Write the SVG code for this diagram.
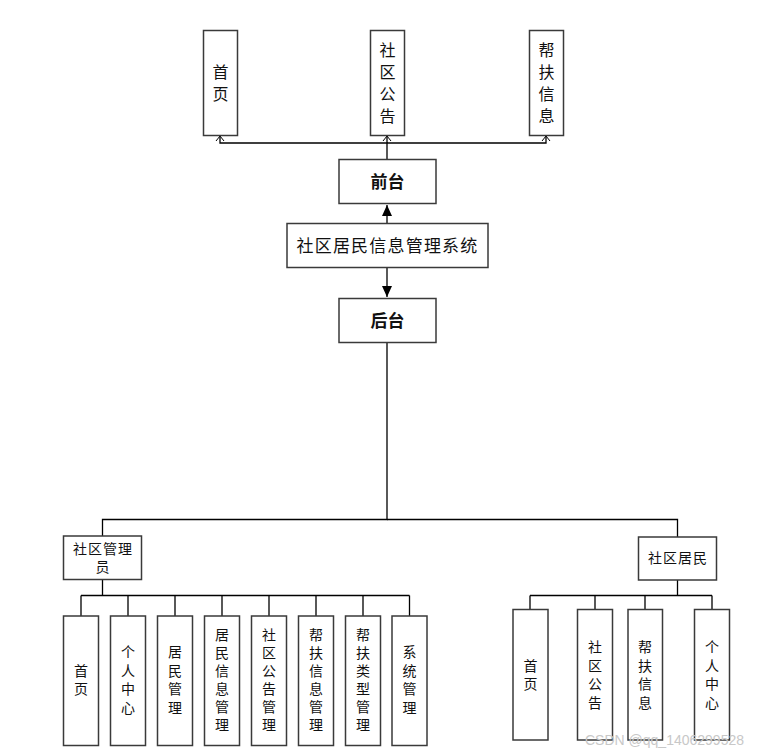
<svg xmlns="http://www.w3.org/2000/svg" width="758" height="753" viewBox="0 0 758 753">
<style>
.box{fill:#fff;stroke:#3a3a3a;stroke-width:1.5}
.ln{fill:none;stroke:#000;stroke-width:1.3}
text{font-family:"Liberation Sans","Noto Sans CJK SC",sans-serif;fill:#111;text-anchor:middle;dominant-baseline:central}
.t16{font-size:16px}
.t14{font-size:14px}
.b{font-weight:bold;font-size:17px}
.wm{font-family:"Liberation Sans",sans-serif;font-size:14px;fill:#c8c8c8;text-anchor:start}
</style>
<defs>
<marker id="open" markerWidth="10" markerHeight="10" refX="5" refY="1" orient="0" markerUnits="userSpaceOnUse">
<path d="M1 6 L5 1 L9 6" fill="none" stroke="#000" stroke-width="1"/>
</marker>
<marker id="fillUp" markerWidth="12" markerHeight="14" refX="6" refY="1" orient="0" markerUnits="userSpaceOnUse">
<path d="M6 1 L11 12 L1 12 Z" fill="#000"/>
</marker>
<marker id="fillDown" markerWidth="12" markerHeight="14" refX="6" refY="13" orient="0" markerUnits="userSpaceOnUse">
<path d="M6 13 L11 2 L1 2 Z" fill="#000"/>
</marker>
</defs>

<g id="connectors">
<path class="ln" d="M387 159 V143 H220 V136" marker-end="url(#open)"/>
<path class="ln" d="M387 143 V136" marker-end="url(#open)"/>
<path class="ln" d="M387 143 H546 V136" marker-end="url(#open)"/>
<path class="ln" d="M387 223 V205" marker-end="url(#fillUp)"/>
<path class="ln" d="M387 267 V297" marker-end="url(#fillDown)"/>
<path class="ln" d="M387 343 V519.5 H102.5 V536"/>
<path class="ln" d="M387 519.5 H677.5 V537"/>
<path class="ln" d="M102.5 579 V595.5"/>
<path class="ln" d="M81 595.5 H409.5"/>
<path class="ln" d="M81 595.5 V616 M128 595.5 V616 M175 595.5 V616 M222 595.5 V616 M269 595.5 V616 M316 595.5 V616 M363 595.5 V616 M409.5 595.5 V616"/>
<path class="ln" d="M677.5 580 V595.5"/>
<path class="ln" d="M530 595.5 H712"/>
<path class="ln" d="M530 595.5 V609 M595 595.5 V609 M645 595.5 V609 M712 595.5 V609"/>
</g>

<g id="n-home-top"><rect class="box" x="203.5" y="30.5" width="34" height="105"/>
<text class="t16"><tspan x="220.5" y="72">首</tspan><tspan x="220.5" y="94">页</tspan></text></g>
<g id="n-notice-top"><rect class="box" x="370.5" y="30.5" width="34" height="105"/>
<text class="t16"><tspan x="387.5" y="50">社</tspan><tspan x="387.5" y="72">区</tspan><tspan x="387.5" y="94">公</tspan><tspan x="387.5" y="116">告</tspan></text></g>
<g id="n-help-top"><rect class="box" x="529.5" y="30.5" width="34" height="105"/>
<text class="t16"><tspan x="546.5" y="50">帮</tspan><tspan x="546.5" y="72">扶</tspan><tspan x="546.5" y="94">信</tspan><tspan x="546.5" y="116">息</tspan></text></g>

<g id="n-front"><rect class="box" x="339" y="159.5" width="97" height="44"/>
<text class="b" x="387.5" y="182">前台</text></g>
<g id="n-system"><rect class="box" x="287" y="223.5" width="201" height="44"/>
<text x="387.5" y="246" style="font-size:17px;letter-spacing:1.2px">社区居民信息管理系统</text></g>
<g id="n-back"><rect class="box" x="339" y="298.5" width="97" height="44"/>
<text class="b" x="387.5" y="321">后台</text></g>

<g id="n-admin"><rect class="box" x="63.5" y="536" width="78" height="43.5"/>
<text class="t14" style="letter-spacing:1px"><tspan x="103" y="549">社区管理</tspan><tspan x="103" y="567">员</tspan></text></g>
<g id="n-resident"><rect class="box" x="638.5" y="537" width="78" height="43"/>
<text class="t14" x="678" y="558" style="letter-spacing:1px">社区居民</text></g>

<g id="a-home"><rect class="box" x="63.5" y="616" width="35" height="129.5"/>
<text class="t14"><tspan x="81" y="671">首</tspan><tspan x="81" y="689">页</tspan></text></g>
<g id="a-personal"><rect class="box" x="110.5" y="616" width="35" height="129.5"/>
<text class="t14"><tspan x="128" y="652">个</tspan><tspan x="128" y="670.5">人</tspan><tspan x="128" y="689">中</tspan><tspan x="128" y="707.5">心</tspan></text></g>
<g id="a-resident"><rect class="box" x="157.5" y="616" width="35" height="129.5"/>
<text class="t14"><tspan x="175" y="652">居</tspan><tspan x="175" y="670.5">民</tspan><tspan x="175" y="689">管</tspan><tspan x="175" y="707.5">理</tspan></text></g>
<g id="a-resinfo"><rect class="box" x="204.5" y="616" width="35" height="129.5"/>
<text class="t14"><tspan x="222" y="634.5">居</tspan><tspan x="222" y="652.5">民</tspan><tspan x="222" y="670.5">信</tspan><tspan x="222" y="688.5">息</tspan><tspan x="222" y="706.5">管</tspan><tspan x="222" y="724.5">理</tspan></text></g>
<g id="a-notice"><rect class="box" x="251.5" y="616" width="35" height="129.5"/>
<text class="t14"><tspan x="269" y="634.5">社</tspan><tspan x="269" y="652.5">区</tspan><tspan x="269" y="670.5">公</tspan><tspan x="269" y="688.5">告</tspan><tspan x="269" y="706.5">管</tspan><tspan x="269" y="724.5">理</tspan></text></g>
<g id="a-helpinfo"><rect class="box" x="298.5" y="616" width="35" height="129.5"/>
<text class="t14"><tspan x="316" y="634.5">帮</tspan><tspan x="316" y="652.5">扶</tspan><tspan x="316" y="670.5">信</tspan><tspan x="316" y="688.5">息</tspan><tspan x="316" y="706.5">管</tspan><tspan x="316" y="724.5">理</tspan></text></g>
<g id="a-helptype"><rect class="box" x="345.5" y="616" width="35" height="129.5"/>
<text class="t14"><tspan x="363" y="634.5">帮</tspan><tspan x="363" y="652.5">扶</tspan><tspan x="363" y="670.5">类</tspan><tspan x="363" y="688.5">型</tspan><tspan x="363" y="706.5">管</tspan><tspan x="363" y="724.5">理</tspan></text></g>
<g id="a-system"><rect class="box" x="392" y="616" width="35" height="129.5"/>
<text class="t14"><tspan x="409.5" y="652">系</tspan><tspan x="409.5" y="670.5">统</tspan><tspan x="409.5" y="689">管</tspan><tspan x="409.5" y="707.5">理</tspan></text></g>

<g id="r-home"><rect class="box" x="513" y="609.5" width="35" height="130.5"/>
<text class="t14"><tspan x="530.5" y="665.5">首</tspan><tspan x="530.5" y="683.5">页</tspan></text></g>
<g id="r-notice"><rect class="box" x="577.5" y="609.5" width="35" height="130.5"/>
<text class="t14"><tspan x="595" y="647">社</tspan><tspan x="595" y="665.5">区</tspan><tspan x="595" y="684">公</tspan><tspan x="595" y="702.5">告</tspan></text></g>
<g id="r-help"><rect class="box" x="628" y="609.5" width="34.5" height="130.5"/>
<text class="t14"><tspan x="645" y="647">帮</tspan><tspan x="645" y="665.5">扶</tspan><tspan x="645" y="684">信</tspan><tspan x="645" y="702.5">息</tspan></text></g>
<g id="r-personal"><rect class="box" x="694.5" y="609.5" width="35" height="130.5"/>
<text class="t14"><tspan x="712" y="647">个</tspan><tspan x="712" y="665.5">人</tspan><tspan x="712" y="684">中</tspan><tspan x="712" y="702.5">心</tspan></text></g>

<text class="wm" x="585" y="740" style="dominant-baseline:central">CSDN @qq_1406299528</text>
</svg>
